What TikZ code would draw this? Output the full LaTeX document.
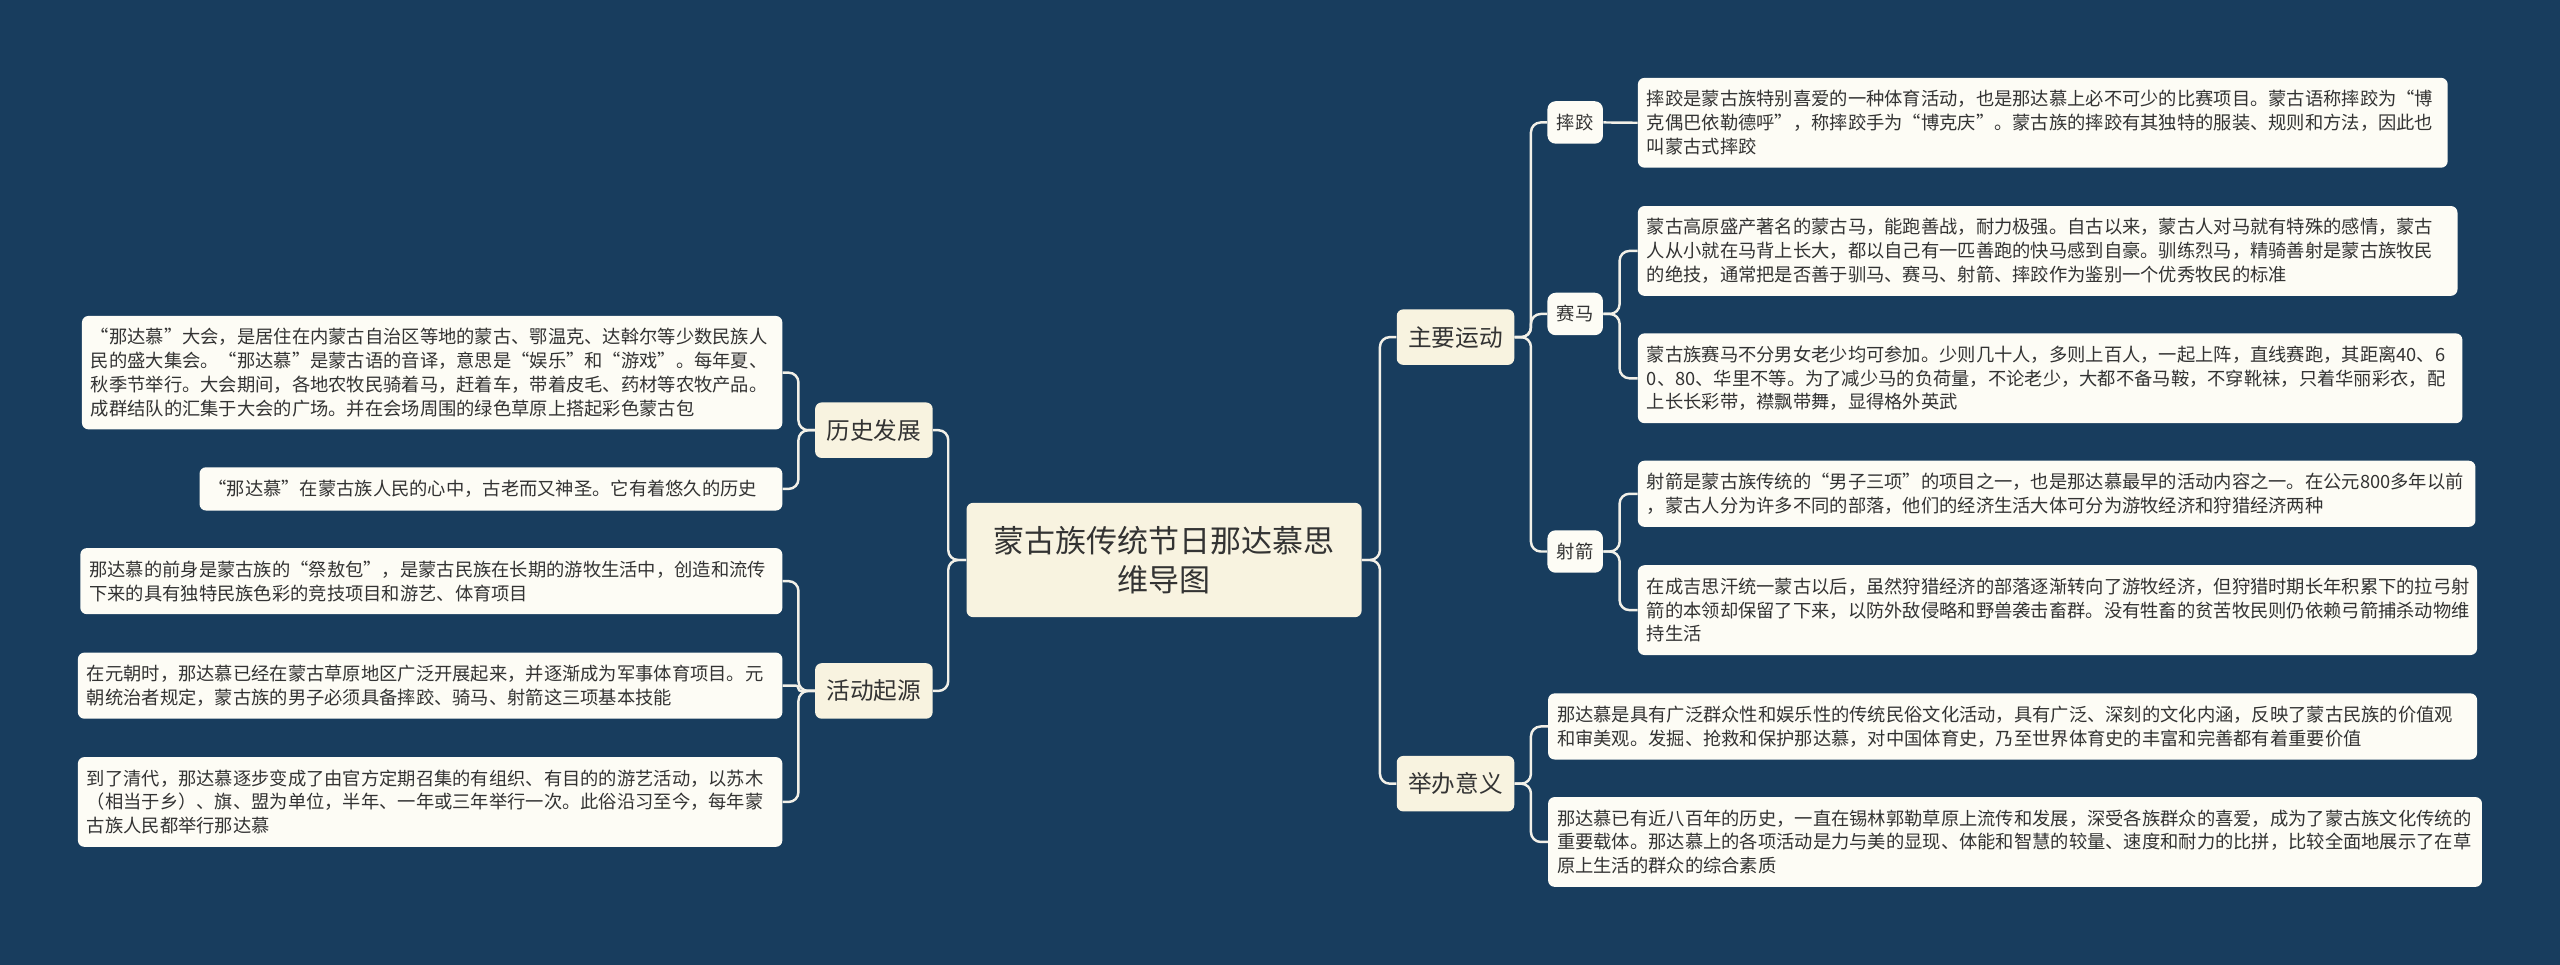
\documentclass[tikz,border=0pt]{standalone}
\usepackage{fontspec}
\setmainfont{Noto Sans CJK SC}
\definecolor{bgc}{HTML}{183D5E}
\definecolor{rootc}{HTML}{F8F3E0}
\definecolor{leafc}{HTML}{FDFCF5}
\definecolor{linec}{HTML}{F2F0E8}
\definecolor{txt}{HTML}{333333}
\tikzset{
  conn/.style={draw=linec, line width=1.5pt, rounded corners=#1},
  conn/.default=6pt,
  rootbox/.style={fill=rootc, rounded corners=4pt, text=txt, align=center, inner sep=0pt,
    font=\fontsize{19}{24}\selectfont},
  mainbox/.style={fill=rootc, rounded corners=4pt, text=txt, inner sep=0pt,
    font=\fontsize{14.5}{17}\selectfont, minimum width=72pt, minimum height=34pt},
  subbox/.style={fill=leafc, rounded corners=5pt, text=txt, inner sep=0pt,
    font=\fontsize{11.2}{14}\selectfont, minimum width=34pt, minimum height=26pt},
  leafbox/.style={fill=leafc, rounded corners=4pt, text=txt, anchor=north west, align=left,
    inner xsep=5.5pt, inner ysep=0pt, font=\fontsize{11.2}{14.6}\selectfont},
}
\begin{document}
\begin{tikzpicture}[x=1pt,y=-1pt]
\useasboundingbox (0,0) rectangle (1568,591);
\fill[bgc] (0,0) rectangle (1568,591);

% root and main branches
\node[rootbox, minimum width=242pt, minimum height=70pt] (root) at (713,343) {蒙古族传统节日那达慕思\\维导图};
\node[mainbox] (hist) at (535.25,263.5) {历史发展};
\node[mainbox] (orig) at (535.25,423.2) {活动起源};
\node[mainbox] (sport) at (891.5,206.5) {主要运动};
\node[mainbox] (mean) at (891.5,480) {举办意义};

% sub branches
\node[subbox] (wres) at (964.8,75) {摔跤};
\node[subbox] (horse) at (964.8,192.3) {赛马};
\node[subbox] (arch) at (964.8,337.8) {射箭};

% right leaves
\node[leafbox, text width=485pt, minimum height=55pt] (l1) at (1003,47.5) {摔跤是蒙古族特别喜爱的一种体育活动，也是那达慕上必不可少的比赛项目。蒙古语称摔跤为“博\\克偶巴依勒德呼”，称摔跤手为“博克庆”。蒙古族的摔跤有其独特的服装、规则和方法，因此也\\叫蒙古式摔跤};
\node[leafbox, text width=491pt, minimum height=55pt] (l2) at (1003,126) {蒙古高原盛产著名的蒙古马，能跑善战，耐力极强。自古以来，蒙古人对马就有特殊的感情，蒙古\\人从小就在马背上长大，都以自己有一匹善跑的快马感到自豪。驯练烈马，精骑善射是蒙古族牧民\\的绝技，通常把是否善于驯马、赛马、射箭、摔跤作为鉴别一个优秀牧民的标准};
\node[leafbox, text width=494pt, minimum height=55pt] (l3) at (1003,204) {蒙古族赛马不分男女老少均可参加。少则几十人，多则上百人，一起上阵，直线赛跑，其距离40、6\\0、80、华里不等。为了减少马的负荷量，不论老少，大都不备马鞍，不穿靴袜，只着华丽彩衣，配\\上长长彩带，襟飘带舞，显得格外英武};
\node[leafbox, text width=502pt, minimum height=40.5pt] (l4) at (1003,282) {射箭是蒙古族传统的“男子三项”的项目之一，也是那达慕最早的活动内容之一。在公元800多年以前\\，蒙古人分为许多不同的部落，他们的经济生活大体可分为游牧经济和狩猎经济两种};
\node[leafbox, text width=503pt, minimum height=55pt] (l5) at (1003,346) {在成吉思汗统一蒙古以后，虽然狩猎经济的部落逐渐转向了游牧经济，但狩猎时期长年积累下的拉弓射\\箭的本领却保留了下来，以防外敌侵略和野兽袭击畜群。没有牲畜的贫苦牧民则仍依赖弓箭捕杀动物维\\持生活};
\node[leafbox, text width=558pt, minimum height=40.5pt] (l6) at (948,424.5) {那达慕是具有广泛群众性和娱乐性的传统民俗文化活动，具有广泛、深刻的文化内涵，反映了蒙古民族的价值观\\和审美观。发掘、抢救和保护那达慕，对中国体育史，乃至世界体育史的丰富和完善都有着重要价值};
\node[leafbox, text width=561pt, minimum height=55pt] (l7) at (948,488) {那达慕已有近八百年的历史，一直在锡林郭勒草原上流传和发展，深受各族群众的喜爱，成为了蒙古族文化传统的\\重要载体。那达慕上的各项活动是力与美的显现、体能和智慧的较量、速度和耐力的比拼，比较全面地展示了在草\\原上生活的群众的综合素质};

% left leaves
\node[leafbox, text width=418pt, minimum height=69.5pt] (h1) at (50,193.3) {“那达慕”大会，是居住在内蒙古自治区等地的蒙古、鄂温克、达斡尔等少数民族人\\民的盛大集会。“那达慕”是蒙古语的音译，意思是“娱乐”和“游戏”。每年夏、\\秋季节举行。大会期间，各地农牧民骑着马，赶着车，带着皮毛、药材等农牧产品。\\成群结队的汇集于大会的广场。并在会场周围的绿色草原上搭起彩色蒙古包};
\node[leafbox, text width=346pt, minimum height=26.5pt] (h2) at (122,286) {“那达慕”在蒙古族人民的心中，古老而又神圣。它有着悠久的历史};
\node[leafbox, text width=419pt, minimum height=40.5pt] (a1) at (49,335.5) {那达慕的前身是蒙古族的“祭敖包”，是蒙古民族在长期的游牧生活中，创造和流传\\下来的具有独特民族色彩的竞技项目和游艺、体育项目};
\node[leafbox, text width=420.5pt, minimum height=40.5pt] (a2) at (47.5,399.5) {在元朝时，那达慕已经在蒙古草原地区广泛开展起来，并逐渐成为军事体育项目。元\\朝统治者规定，蒙古族的男子必须具备摔跤、骑马、射箭这三项基本技能};
\node[leafbox, text width=420.5pt, minimum height=55pt] (a3) at (47.5,463.5) {到了清代，那达慕逐步变成了由官方定期召集的有组织、有目的的游艺活动，以苏木\\（相当于乡）、旗、盟为单位，半年、一年或三年举行一次。此俗沿习至今，每年蒙\\古族人民都举行那达慕};

% connectors
\draw[conn] (root.west) -- ++(-11,0) |- (hist.east);
\draw[conn] (root.west) -- ++(-11,0) |- (orig.east);
\draw[conn] (root.east) -- ++(11,0) |- (sport.west);
\draw[conn] (root.east) -- ++(11,0) |- (mean.west);
\draw[conn] (sport.east) -- ++(10,0) |- (wres.west);
\draw[conn] (sport.east) -- ++(10,0) |- (horse.west);
\draw[conn] (sport.east) -- ++(10,0) |- (arch.west);
\draw[conn] (wres.east) -- (l1.west);
\draw[conn] (horse.east) -- ++(10,0) |- (l2.west);
\draw[conn] (horse.east) -- ++(10,0) |- (l3.west);
\draw[conn] (arch.east) -- ++(10,0) |- (l4.west);
\draw[conn] (arch.east) -- ++(10,0) |- (l5.west);
\draw[conn] (mean.east) -- ++(10,0) |- (l6.west);
\draw[conn] (mean.east) -- ++(10,0) |- (l7.west);
\draw[conn] (hist.west) -- ++(-10,0) |- (h1.east);
\draw[conn] (hist.west) -- ++(-10,0) |- (h2.east);
\draw[conn] (orig.west) -- ++(-10,0) |- (a1.east);
\draw[conn=1.5pt] (orig.west) -- ++(-10,0) |- (a2.east);
\draw[conn] (orig.west) -- ++(-10,0) |- (a3.east);
\end{tikzpicture}
\end{document}
